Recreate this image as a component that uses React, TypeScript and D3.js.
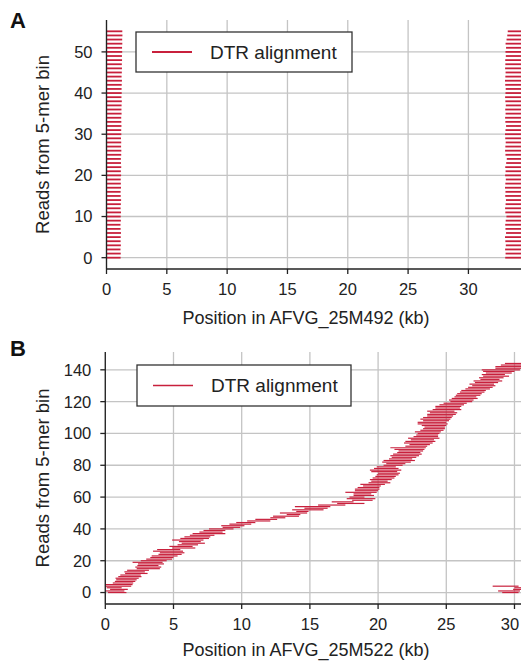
import React from "react";
import * as d3 from "d3";

// Panel A: every read aligns at both genome ends (kb)
const aLeftStart = 0.03;
const aLeftEnd = [
	1.17, 1.18, 1.16, 1.19, 1.17, 1.18, 1.20, 1.17, 1.16, 1.19, 1.18, 1.20, 1.17, 1.19,
	1.21, 1.18, 1.17, 1.20, 1.19, 1.18, 1.21, 1.19, 1.22, 1.20, 1.19, 1.22, 1.23, 1.21,
	1.22, 1.20, 1.23, 1.22, 1.24, 1.23, 1.22, 1.25, 1.24, 1.25, 1.27, 1.24, 1.26, 1.25,
	1.26, 1.28, 1.25, 1.27, 1.28, 1.27, 1.29, 1.28, 1.30, 1.29, 1.31, 1.30, 1.32, 1.31,
];
const aRightStart = [
	33.05, 33.08, 33.04, 33.10, 33.06, 33.03, 33.12, 33.07, 33.05, 33.09, 33.15, 33.06,
	33.04, 33.08, 33.11, 33.05, 33.07, 33.03, 33.06, 33.10, 33.04, 33.08, 33.05, 33.13,
	33.18, 33.07, 33.04, 33.06, 33.09, 33.05, 33.03, 33.07, 33.12, 33.06, 33.04, 33.08,
	33.05, 33.10, 33.06, 33.04, 33.07, 33.09, 33.05, 33.03, 33.06, 33.08, 33.04, 33.06,
	33.05, 33.10, 33.07, 33.12, 33.08, 33.16, 33.22, 33.26,
];
const aGenomeEnd = 34.4;

// Panel B: reads tile along the genome (kb)
const bStart = [
	0.2, 0.05, 0.35, 0.1, 0.0, 0.0, 0.55, 0.7, 0.8, 0.75, 0.95, 1.1, 1.45, 1.4, 1.6,
	2.3, 2.2, 2.35, 2.4, 2.0, 2.6, 3.0, 3.3, 3.4, 3.9, 4.0, 3.5, 3.8, 4.9, 4.7,
	5.3, 5.6, 5.4, 4.9, 5.5, 5.8, 6.2, 6.4, 6.9, 7.2, 7.6, 8.6, 8.5, 9.1, 9.6,
	10.4, 11.0, 12.1, 12.3, 13.3, 12.8, 14.0, 13.7, 14.6, 13.9, 15.6, 17.0, 16.6, 18.1, 17.7,
	17.9, 18.2, 18.2, 17.6, 18.3, 18.3, 18.5, 18.9, 18.7, 19.3, 19.5, 19.4, 19.6, 19.8, 19.9,
	20.0, 19.5, 19.4, 19.7, 19.9, 20.4, 20.6, 20.3, 20.4, 20.8, 21.0, 20.9, 21.1, 21.4, 21.5,
	21.2, 20.9, 22.0, 22.3, 21.9, 22.0, 22.4, 22.2, 22.6, 22.8, 22.9, 22.7, 23.1, 23.3, 23.4,
	23.2, 22.9, 22.9, 23.3, 23.1, 23.3, 23.6, 23.6, 23.8, 23.6, 24.0, 24.2, 24.2, 24.5, 24.8,
	25.3, 25.2, 25.4, 25.6, 25.7, 25.8, 26.0, 26.1, 26.4, 26.6, 26.9, 26.7, 27.1, 27.0, 27.5,
	27.4, 27.7, 27.6, 27.9, 27.7, 27.6, 28.6, 28.6, 29.0, 29.3,
];
const bEnd = [
	1.55, 1.4, 1.65, 1.2, 1.9, 2.0, 2.05, 2.2, 2.3, 2.45, 2.65, 2.6, 3.1, 2.9, 3.2,
	4.0, 4.1, 3.9, 4.3, 4.2, 4.5, 4.9, 5.0, 5.3, 5.6, 5.8, 5.7, 5.5, 6.6, 6.4,
	6.8, 7.3, 7.0, 7.2, 7.6, 7.7, 8.0, 8.8, 8.6, 8.8, 9.4, 9.9, 10.2, 10.7, 11.0,
	12.1, 12.6, 13.2, 14.2, 14.3, 14.8, 14.9, 16.0, 16.3, 16.5, 17.6, 19.0, 18.2, 19.6, 19.8,
	19.0, 19.7, 19.5, 19.9, 20.0, 20.1, 20.1, 20.2, 20.5, 20.9, 20.7, 21.0, 21.2, 21.3, 21.5,
	21.6, 21.4, 21.7, 21.5, 21.3, 21.8, 22.0, 22.4, 22.7, 22.5, 22.8, 23.0, 23.2, 23.1, 23.3,
	23.4, 23.5, 23.6, 23.8, 24.0, 24.2, 24.1, 24.5, 24.4, 24.4, 24.5, 24.6, 24.8, 24.9, 24.9,
	25.0, 25.1, 25.0, 25.2, 25.3, 25.4, 25.5, 25.7, 25.8, 25.6, 26.1, 26.0, 26.1, 26.3, 26.5,
	26.9, 27.0, 27.3, 27.2, 27.5, 27.6, 27.8, 27.9, 28.2, 28.4, 28.6, 28.5, 28.8, 29.1, 28.9,
	29.2, 29.6, 29.3, 29.8, 30.0, 30.4, 30.5, 30.6, 30.6, 30.5,
];
// first reads wrap round to the far end of the genome
const bWrapRead = [0, 1, 2, 3, 4];
const bWrapStart = [29.1, 28.8, 29.9, 30.0, 28.4];
const bWrapEnd = [30.3, 30.4, 30.5, 30.5, 30.3];
const bGenomeEnd = 30.5;

const xTicks = [0, 5, 10, 15, 20, 25, 30];
const aYTicks = [0, 10, 20, 30, 40, 50];
const bYTicks = [0, 20, 40, 60, 80, 100, 120, 140];

const red = "#c8203c";
const font = "'Liberation Sans', Arial, Helvetica, sans-serif";

interface Segment {
	read: number;
	x0: number;
	x1: number;
}

interface PanelProps {
	letter: string;
	letterY: number;
	segments: Segment[];
	xMax: number;
	yDomain: [number, number];
	yTicks: number[];
	left: number;
	right: number;
	top: number;
	bottom: number;
	xLabel: string;
	xLabelDy: number;
	lineWidth: number;
	legend: { x: number; y: number; w: number; h: number; lw: number };
}

function Panel(props: PanelProps) {
	const x = d3.scaleLinear().domain([0, props.xMax]).range([props.left, props.right]);
	const y = d3.scaleLinear().domain(props.yDomain).range([props.bottom, props.top]);
	const lg = props.legend;

	return (
		<g fontFamily={font}>
			<text x={10} y={props.letterY} fontSize={22} fontWeight="bold" fill="#111">
				{props.letter}
			</text>

			{/* grid */}
			<g stroke="#c4c4c4" strokeWidth={1.3}>
				{xTicks.map((t) => (
					<line key={"gx" + t} x1={x(t)} x2={x(t)} y1={props.top} y2={props.bottom} />
				))}
				{props.yTicks.map((t) => (
					<line key={"gy" + t} x1={props.left} x2={props.right} y1={y(t)} y2={y(t)} />
				))}
			</g>

			{/* reads */}
			<g stroke={red} strokeWidth={props.lineWidth}>
				{props.segments.map((s, i) => (
					<line key={i} x1={x(s.x0)} x2={x(s.x1)} y1={y(s.read)} y2={y(s.read)} />
				))}
			</g>

			{/* x-axis */}
			<g transform={`translate(0, ${props.bottom})`} fill="#222" fontSize={16.5}>
				<line x1={props.left} x2={props.right} stroke="#222" strokeWidth={1.3} />
				{xTicks.map((t) => (
					<g key={t}>
						<line x1={x(t)} x2={x(t)} y1={0} y2={5} stroke="#222" strokeWidth={1.3} />
						<text x={Math.min(x(t), 510)} y={26} textAnchor="middle">
							{t}
						</text>
					</g>
				))}
				<text x={306} y={props.xLabelDy} textAnchor="middle" fontSize={18}>
					{props.xLabel}
				</text>
			</g>

			{/* y-axis */}
			<g transform={`translate(${props.left}, 0)`} fill="#222" fontSize={16.5}>
				<line y1={props.top} y2={props.bottom} stroke="#222" strokeWidth={1.3} />
				{props.yTicks.map((t) => (
					<g key={t}>
						<line x1={-5} x2={0} y1={y(t)} y2={y(t)} stroke="#222" strokeWidth={1.3} />
						<text x={-14} y={y(t)} dy="0.36em" textAnchor="end">
							{t}
						</text>
					</g>
				))}
			</g>
			<text
				transform={`translate(49, ${(props.top + props.bottom) / 2}) rotate(-90)`}
				textAnchor="middle"
				fontSize={18.5}
				fill="#222"
			>
				Reads from 5-mer bin
			</text>

			{/* legend */}
			<rect x={lg.x} y={lg.y} width={lg.w} height={lg.h} fill="white" stroke="#333" strokeWidth={1.3} />
			<line
				x1={lg.x + 16}
				x2={lg.x + 56}
				y1={lg.y + lg.h / 2}
				y2={lg.y + lg.h / 2}
				stroke={red}
				strokeWidth={lg.lw}
			/>
			<text x={lg.x + 74} y={lg.y + lg.h / 2} dy="0.36em" fontSize={19} fill="#222">
				DTR alignment
			</text>
		</g>
	);
}

export default function App() {
	const aSegments: Segment[] = [];
	aLeftEnd.forEach((e, i) => {
		aSegments.push({ read: i, x0: aLeftStart, x1: e });
		aSegments.push({ read: i, x0: aRightStart[i], x1: aGenomeEnd });
	});

	const bSegments: Segment[] = bStart.map((s, i) => ({ read: i, x0: s, x1: bEnd[i] }));
	bWrapRead.forEach((r, i) => {
		bSegments.push({ read: r, x0: bWrapStart[i], x1: bWrapEnd[i] });
	});

	return (
		<div style={{ position: "absolute", left: 0, top: 0 }}>
			<svg width={521} height={662} style={{ display: "block", background: "white" }}>
				<Panel
					letter="A"
					letterY={28}
					segments={aSegments}
					xMax={aGenomeEnd}
					yDomain={[-2.75, 57.75]}
					yTicks={aYTicks}
					left={106.5}
					right={521.5}
					top={20}
					bottom={269}
					xLabel="Position in AFVG_25M492 (kb)"
					xLabelDy={55}
					lineWidth={1.8}
					legend={{ x: 136, y: 32, w: 216, h: 40, lw: 2 }}
				/>
				<Panel
					letter="B"
					letterY={356}
					segments={bSegments}
					xMax={bGenomeEnd}
					yDomain={[-7.2, 151.2]}
					yTicks={bYTicks}
					left={105.3}
					right={521.3}
					top={352}
					bottom={604}
					xLabel="Position in AFVG_25M522 (kb)"
					xLabelDy={52}
					lineWidth={1.2}
					legend={{ x: 137, y: 365, w: 214, h: 41, lw: 1.3 }}
				/>
			</svg>
		</div>
	);
}
